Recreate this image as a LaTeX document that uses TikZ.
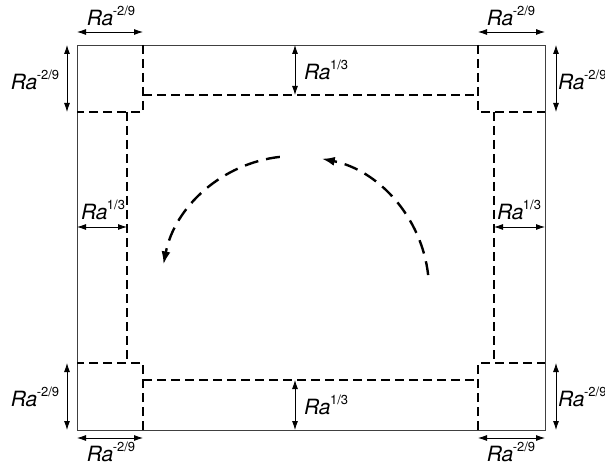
\documentclass[tikz,border=0pt]{standalone}
\usepackage{fontspec}
\setmainfont{TeX Gyre Heros}
\usetikzlibrary{arrows.meta}

\newcommand{\Ra}[1]{{\itshape Ra}\kern-0.5pt\raisebox{0.45em}{\fontsize{13}{13}\selectfont #1}}

\tikzset{
  wall/.style={draw=black!75,line width=0.9pt},
  layer/.style={line width=1.8pt,dash pattern=on 9pt off 5pt},
  dim/.style={line width=0.8pt,{Latex[length=9pt,width=6pt]}-{Latex[length=9pt,width=6pt]}},
  flow/.style={line width=2.4pt,dash pattern=on 14pt off 8pt,-{Latex[length=13pt,width=9pt]}},
  lbl/.style={font=\fontsize{21}{21}\selectfont,inner sep=0pt}
}

\begin{document}
\begin{tikzpicture}[x=1pt,y=-1pt]
  \useasboundingbox (0,0) rectangle (605,465);
  % cell
  \draw[wall] (77,45) rectangle (545,430);
  % boundary layers
  \draw[layer] (143,45)--(143,112)--(77,112);
  \draw[layer] (478,45)--(478,112)--(545,112);
  \draw[layer] (143,430)--(143,363)--(77,363);
  \draw[layer] (478,430)--(478,363)--(545,363);
  \draw[layer] (143,95)--(478,95);
  \draw[layer] (143,380)--(478,380);
  \draw[layer] (127,112)--(127,363);
  \draw[layer] (494,112)--(494,363);
  % circulation
  \draw[flow] (295,290) ++(-6.4:134) arc (-6.4:-78.5:134);
  \draw[flow] (295,290) ++(-96.5:134) arc (-96.5:-169:134);
  % corner sizes
  \draw[dim] (77,32)--(143,32);
  \draw[dim] (67,45)--(67,112);
  \draw[dim] (478,32)--(545,32);
  \draw[dim] (556,45)--(556,112);
  \draw[dim] (77,438)--(143,438);
  \draw[dim] (67,363)--(67,430);
  \draw[dim] (478,438)--(545,438);
  \draw[dim] (556,363)--(556,430);
  \node[lbl] (tlh) at (111,16) {\Ra{-2/9}};
  \node[lbl] (tlv) at (35,80) {\Ra{-2/9}};
  \node[lbl] (trh) at (511,16) {\Ra{-2/9}};
  \node[lbl,anchor=west] (trv) at (558,80) {\Ra{-2/9}};
  \node[lbl] (blh) at (111,452) {\Ra{-2/9}};
  \node[lbl] (blv) at (35,397) {\Ra{-2/9}};
  \node[lbl] (brh) at (511,452) {\Ra{-2/9}};
  \node[lbl,anchor=west] (brv) at (558,397) {\Ra{-2/9}};
  % layer thickness
  \draw[dim] (295,45)--(295,95);
  \draw[dim] (295,380)--(295,430);
  \draw[dim] (77,227)--(127,227);
  \draw[dim] (494,227)--(545,227);
  \node[lbl,anchor=west] (top) at (304,70) {\Ra{1/3}};
  \node[lbl,anchor=west] (bot) at (304,405) {\Ra{1/3}};
  \node[lbl] (lft) at (103,210) {\Ra{1/3}};
  \node[lbl] (rgt) at (519,210) {\Ra{1/3}};
\end{tikzpicture}
\end{document}
